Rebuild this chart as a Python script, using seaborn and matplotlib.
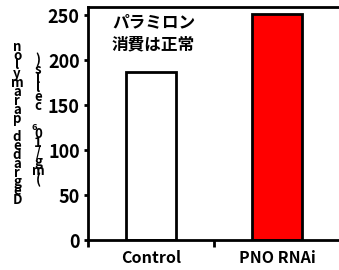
import matplotlib
matplotlib.use("Agg")
import matplotlib.pyplot as plt
import seaborn as sns
import pandas as pd

# data
groups = ["Control", "PNO RNAi"]
values = [187, 251]
bar_colors = ["white", "red"]
y_ticks = [0, 50, 100, 150, 200, 250]
note = "パラミロン\n消費は正常"
ylabel_main = "Degraded paramylon"
ylabel_unit = "(mg/10⁶ cells)"

sns.set_style("ticks")
plt.rcParams['font.family'] = ['Noto Sans CJK JP', 'DejaVu Sans']
plt.rcParams['text.color'] = "black"
plt.rcParams['xtick.color'] = "black"
plt.rcParams['ytick.color'] = "black"

df = pd.DataFrame({"group": groups, "value": values})

fig = plt.figure(figsize=(3.39, 2.70), dpi=100)
ax = fig.add_axes([88 / 339, 30 / 270, 252 / 339, 233 / 270])

sns.barplot(data=df, x="group", y="value", hue="group", palette=bar_colors,
            saturation=1, width=0.4, edgecolor="black", linewidth=2,
            legend=False, ax=ax)

ax.set_xlim(-0.5, 1.5)
ax.set_ylim(0, 259)
ax.set_yticks(y_ticks)
ax.set_xlabel("")
ax.set_ylabel("")

# frame: left, bottom and top lines only
for side in ["left", "bottom", "top"]:
    ax.spines[side].set_linewidth(2)
    ax.spines[side].set_color("black")
ax.spines["right"].set_visible(False)

ax.tick_params(axis="y", direction="out", length=3, width=2, labelsize=13, pad=3)
ax.tick_params(axis="x", which="major", length=0, labelsize=11.5, pad=7)
for lab in ax.get_yticklabels() + ax.get_xticklabels():
    lab.set_fontweight("bold")
# category separators as ticks below the axis
ax.set_xticks([-0.5, 0.5, 1.5], minor=True)
ax.tick_params(axis="x", which="minor", direction="out", length=5, width=2)

ax.text(0.095, 0.975, note, transform=ax.transAxes, ha="left", va="top",
        fontsize=12, fontweight="bold", linespacing=1.3)

# stacked y label, read bottom to top (superscript drawn as a small digit)
def stacked(label, x_px, y_bottom_px, step_px, size):
    for i, ch in enumerate(label):
        y_px = y_bottom_px - i * step_px
        if ch == "⁶":
            fig.text((x_px - 4) / 339, 1 - (y_px + 3) / 270, "6", ha="center",
                     va="center", fontsize=size * 0.7, fontweight="bold")
            continue
        fig.text(x_px / 339, 1 - y_px / 270, ch, ha="center", va="center",
                 fontsize=size, fontweight="bold")

stacked(ylabel_main, 17, 200, 9.0, 9.5)
stacked(ylabel_unit, 38, 180, 9.2, 9.5)

fig.savefig("out.png", dpi=100)
